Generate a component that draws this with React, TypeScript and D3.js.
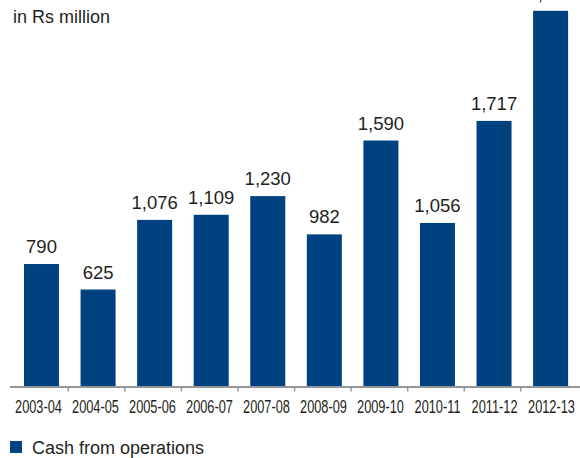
import React from "react";
import * as d3 from "d3";

const categories = ["2003-04", "2004-05", "2005-06", "2006-07", "2007-08", "2008-09", "2009-10", "2010-11", "2011-12", "2012-13"];
const values = [790, 625, 1076, 1109, 1230, 982, 1590, 1056, 1717, 2430];
const seriesName = "Cash from operations";
const unitLabel = "in Rs million";

const W = 580;
const H = 458;
const BAR = "#00427f";
const TEXT = "#231f20";
const AXIS = "#939598";

export default function App() {
  const x = d3.scaleBand<string>().domain(categories).range([13.25, 578.85]).paddingInner(0.381).paddingOuter(0.19);
  const xl = d3.scalePoint<string>().domain(categories).range([38.5, 551.5]);
  const y = d3.scaleLinear().domain([0, 2500]).range([386, 0]);
  const fmt = d3.format(",");
  const step = x.step();
  const bw = x.bandwidth();
  return (
    <svg width={W} height={H} style={{ position: "absolute", left: 0, top: 0 }} fontFamily="'Liberation Sans', Arial, sans-serif">
      <rect width={W} height={H} fill="#fff" />
      <text x={13} y={23} fontSize={18} fill={TEXT}>{unitLabel}</text>
      {categories.map((c, i) => (
        <g key={c}>
          <rect x={x(c)} y={y(values[i])} width={bw} height={y(0) - y(values[i])} fill={BAR} />
          <text x={(x(c) as number) + bw / 2} y={y(values[i]) - 11} fontSize={18.5} textAnchor="middle" fill={TEXT}>{fmt(values[i])}</text>
          <text transform={`translate(${xl(c)},413) scale(0.8,1.2)`} fontSize={16} textAnchor="middle" fill={TEXT}>{c}</text>
        </g>
      ))}
      <line x1={10} x2={580} y1={387} y2={387} stroke={AXIS} strokeWidth={2} />
      {categories.slice(0, -1).map((c) => {
        const tx = (x(c) as number) + bw + (step - bw) / 2 - 1.5;
        return <line key={"t" + c} x1={tx} x2={tx} y1={387} y2={391.5} stroke={AXIS} strokeWidth={1.5} />;
      })}
      <rect x={10} y={441} width={12} height={12} fill={BAR} />
      <text x={32} y={454} fontSize={18} fill={TEXT}>{seriesName}</text>
    </svg>
  );
}
